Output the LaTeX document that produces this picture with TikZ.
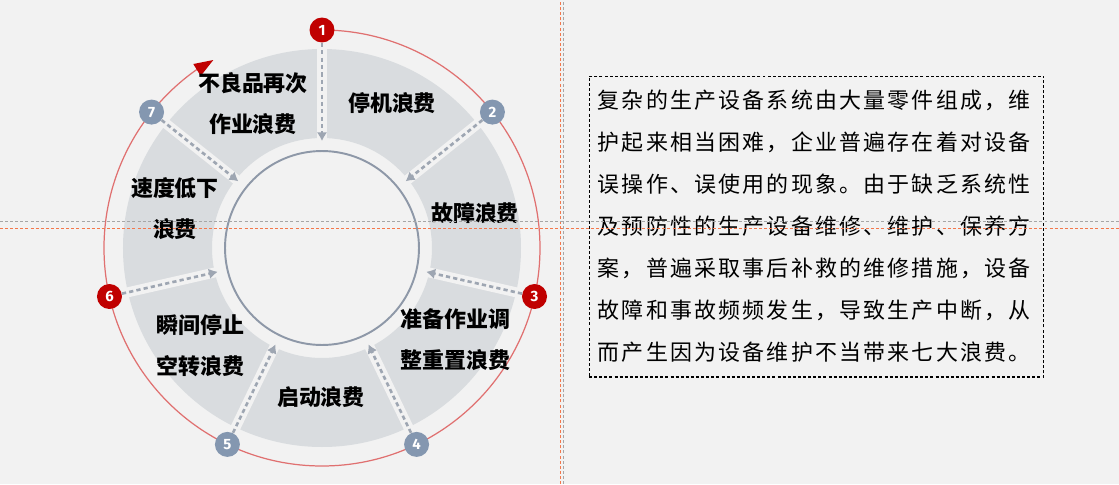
\documentclass[tikz,border=0pt]{standalone}
\usepackage{fontspec}
\setmainfont{Fira Sans}
\newfontfamily\cjk{Noto Sans CJK SC}
\newfontfamily\cjkbody[LetterSpace=10]{Noto Sans CJK SC}
\usetikzlibrary{arrows.meta}
\definecolor{wasteBg}{HTML}{F2F2F2}
\definecolor{wasteRing}{HTML}{D9DCDF}
\definecolor{wasteRed}{HTML}{C00000}
\definecolor{wasteLine}{HTML}{E07070}
\definecolor{wasteSlate}{HTML}{8497B0}
\definecolor{wasteArrow}{HTML}{9EA6B2}
\definecolor{wasteHub}{HTML}{8E98A8}
\definecolor{guideOrange}{HTML}{F4774B}
\definecolor{guideGray}{HTML}{A6A6A6}

\begin{document}
\begin{tikzpicture}[x=0.02cm, y=0.02cm,
  wasteText/.style={font=\cjk\bfseries\fontsize{12.5}{23.3}\selectfont, align=center},
  dotRed/.style={circle, fill=wasteRed, text=white, minimum size=0.5cm, inner sep=0pt, font=\bfseries\fontsize{8.5}{9}\selectfont},
  dotSlate/.style={dotRed, fill=wasteSlate},
  flowArrow/.style={-{Latex[length=5pt,width=6pt]}, wasteArrow, line width=1.5pt, dash pattern=on 2.4pt off 1.8pt, shorten >=0.18cm},
  guideLine/.style={line width=0.6pt, dash pattern=on 1.7pt off 1.2pt}]

  % background and fixed frame
  \fill[wasteBg] (-322,-236) rectangle (797,248);
  \useasboundingbox (-322,-236) rectangle (797,248);

  % ring of seven sectors
  \fill[wasteRing, even odd rule] (0,0) circle[radius=199] (0,0) circle[radius=110];
  \foreach \a in {90,38.571,-12.857,-64.286,-115.714,-167.143,-218.571}
    \draw[wasteBg, line width=0.2cm] (\a:104) -- (\a:206);
  \node[circle, draw=wasteHub, line width=1.1pt, fill=wasteBg, minimum size=3.88cm] (hub) at (0,0) {};

  % outer red cycle
  \draw[wasteLine, line width=0.7pt] (90:218) arc[start angle=90, end angle=-235, radius=218];
  \fill[wasteRed] (-128.7,184) -- (-108.7,188) -- (-121.3,172) -- cycle;

  \node[dotRed] (m1) at (90:218) {1};
  \node[dotSlate] (m2) at (38.571:218) {2};
  \node[dotRed] (m3) at (-12.857:218) {3};
  \node[dotSlate] (m4) at (-64.286:218) {4};
  \node[dotSlate] (m5) at (-115.714:218) {5};
  \node[dotRed] (m6) at (-167.143:218) {6};
  \node[dotSlate] (m7) at (-218.571:218) {7};

  \draw[flowArrow] (m1) -- (hub);
  \draw[flowArrow] (m2) -- (hub);
  \draw[flowArrow] (m3) -- (hub);
  \draw[flowArrow] (m4) -- (hub);
  \draw[flowArrow] (m5) -- (hub);
  \draw[flowArrow] (m6) -- (hub);
  \draw[flowArrow] (m7) -- (hub);

  \node[wasteText] (w1) at (70,145) {停机浪费};
  \node[wasteText] (w2) at (153,35) {故障浪费};
  \node[wasteText] (w3) at (133.5,-92) {准备作业调\\整重置浪费};
  \node[wasteText] (w4) at (-1,-149) {启动浪费};
  \node[wasteText] (w5) at (-121.5,-98) {瞬间停止\\空转浪费};
  \node[wasteText] (w6) at (-147,39) {速度低下\\浪费};
  \node[wasteText] (w7) at (-69,144) {不良品再次\\作业浪费};

  % description box
  \node[draw, line width=0.6pt, dash pattern=on 1.7pt off 1.2pt, minimum width=9.1cm, minimum height=6.02cm,
    text width=8.75cm, align=left, font=\cjkbody\fontsize{12.5}{23.9}\selectfont] (desc) at (494.5,21.5)
    {复杂的生产设备系统由大量零件组成，维\\
     护起来相当困难，企业普遍存在着对设备\\
     误操作、误使用的现象。由于缺乏系统性\\
     及预防性的生产设备维修、维护、保养方\\
     案，普遍采取事后补救的维修措施，设备\\
     故障和事故频频发生，导致生产中断，从\\
     而产生因为设备维护不当带来七大浪费。};

  % guides
  \draw[guideLine, guideOrange] (238.7,-236) -- (238.7,248);
  \draw[guideLine, guideGray] (241.3,-236) -- (241.3,248);
  \draw[guideLine, guideGray] (-322,26.7) -- (797,26.7);
  \draw[guideLine, guideOrange] (-322,19.7) -- (797,19.7);
\end{tikzpicture}
\end{document}
